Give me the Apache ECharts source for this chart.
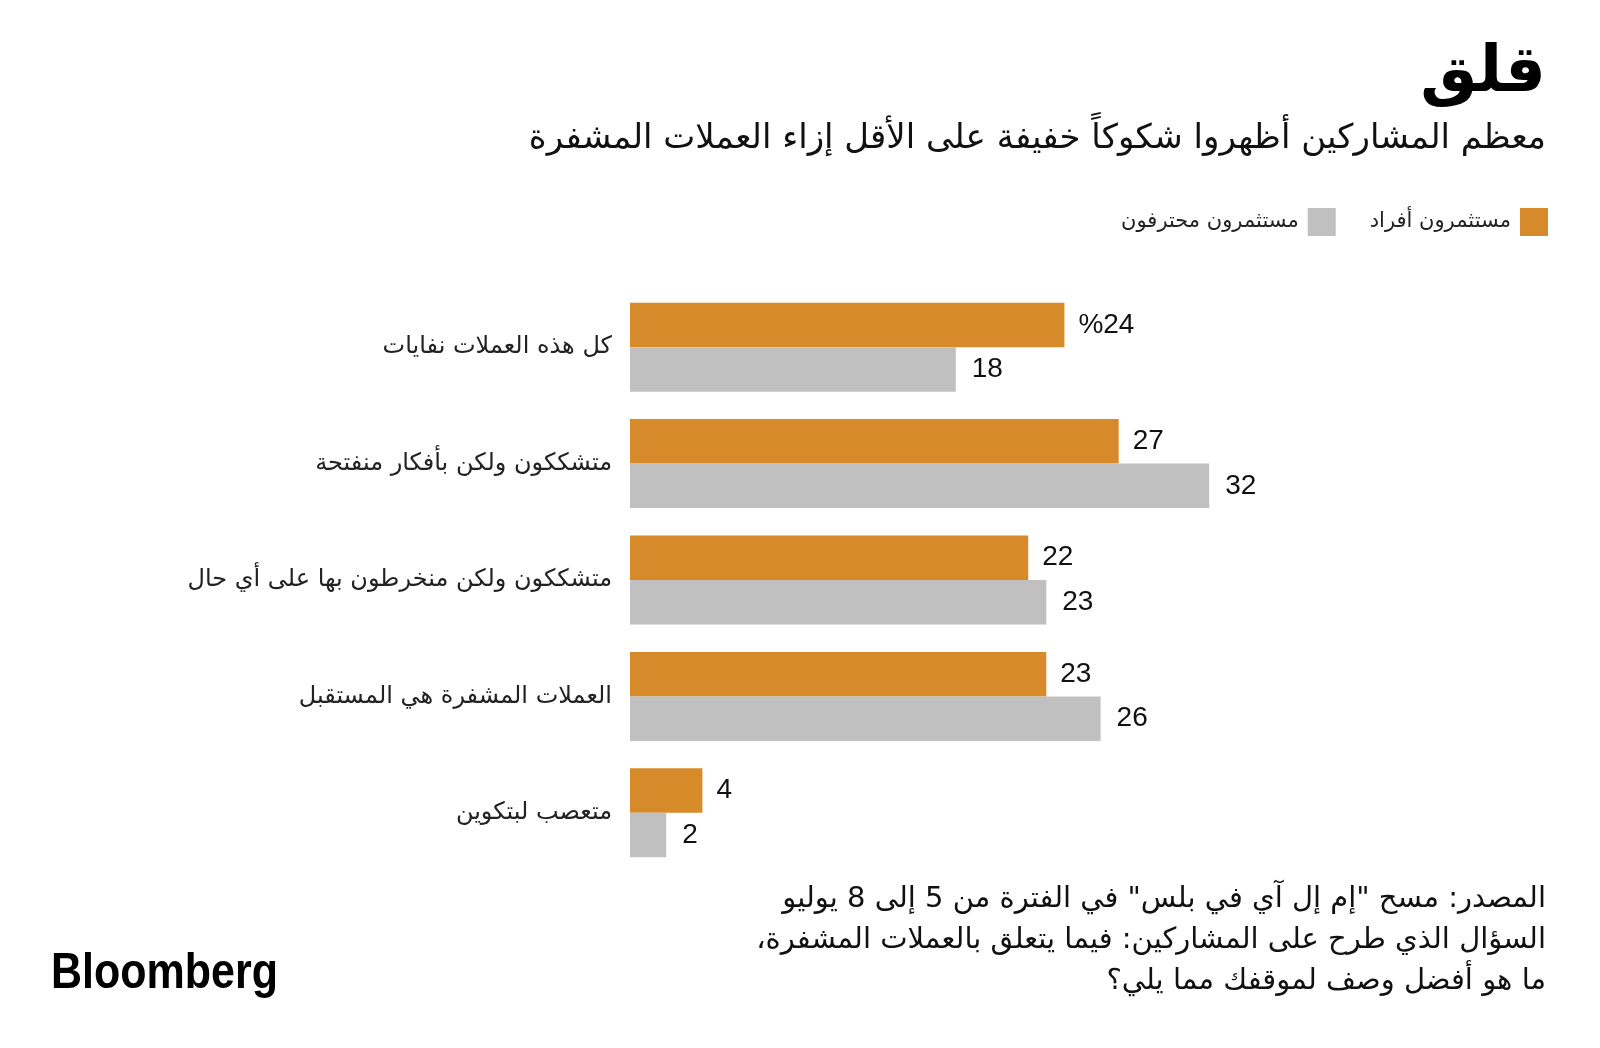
<!DOCTYPE html>
<html>
<head>
<meta charset="utf-8">
<script src="https://cdn.jsdelivr.net/npm/echarts@6/dist/echarts.min.js"></script>
<style>
html,body{margin:0;padding:0;background:#fff;}
#c{width:1600px;height:1048px;direction:rtl;}
</style>
</head>
<body>
<div id="c" dir="rtl"></div>
<script>
const categories = [
  'كل هذه العملات نفايات',
  'متشككون ولكن بأفكار منفتحة',
  'متشككون ولكن منخرطون بها على أي حال',
  'العملات المشفرة هي المستقبل',
  'متعصب لبتكوين'
];
const seriesNames = ['مستثمرون أفراد', 'مستثمرون محترفون'];
const individualValues = [24, 27, 22, 23, 4];
const professionalValues = [18, 32, 23, 26, 2];

const titleText = 'قلق';
const subtitleText = 'معظم المشاركين أظهروا شكوكاً خفيفة على الأقل إزاء العملات المشفرة';
const footerLines = [
  'المصدر: مسح "إم إل آي في بلس" في الفترة من 5 إلى 8 يوليو',
  'السؤال الذي طرح على المشاركين: فيما يتعلق بالعملات المشفرة،',
  'ما هو أفضل وصف لموقفك مما يلي؟'
];

const AR = "'DejaVu Sans', sans-serif";
const NUM = "'Liberation Sans', Arial, sans-serif";
const ORANGE = '#D68A29';
const GRAY = '#C0C0C0';

const chart = echarts.init(document.getElementById('c'), null, {renderer: 'canvas'});
chart.setOption({
  animation: false,
  backgroundColor: '#ffffff',
  graphic: [
    {type: 'text', right: 54, top: 42, style: {text: titleText, font: 'bold 64px ' + AR, fill: '#000', textAlign: 'right'}},
    {type: 'text', right: 54, top: 122, style: {text: subtitleText, font: '34px ' + AR, fill: '#111', textAlign: 'right'}},
    {type: 'text', right: 54, top: 879, style: {text: footerLines.join('\n'), font: '29px ' + AR, fill: '#111', textAlign: 'right', lineHeight: 41}},
    {type: 'text', x: 51, y: 949, scaleX: 0.86, originX: 0, originY: 0,
      style: {text: 'Bloomberg', font: 'bold 50px ' + NUM, fill: '#000', textAlign: 'left', textVerticalAlign: 'top'}}
  ],
  legend: {
    right: 47,
    top: 203,
    align: 'right',
    itemWidth: 28,
    itemHeight: 28,
    itemGap: 34,
    icon: 'rect',
    data: [seriesNames[1], seriesNames[0]],
    textStyle: {fontFamily: AR, fontSize: 21, color: '#222', padding: [0, 4, 0, 0]}
  },
  grid: {left: 630, right: 246, top: 289, bottom: 177, containLabel: false},
  xAxis: {
    type: 'value', min: 0, max: 40,
    axisLine: {show: false}, axisTick: {show: false}, axisLabel: {show: false}, splitLine: {show: false}
  },
  yAxis: {
    type: 'category', inverse: true, data: categories,
    axisLine: {show: false}, axisTick: {show: false},
    axisLabel: {margin: 18, fontFamily: AR, fontSize: 24, color: '#222'}
  },
  series: [
    {
      name: seriesNames[0], type: 'bar', data: individualValues,
      barWidth: 44.5, barGap: '0%',
      itemStyle: {color: ORANGE},
      label: {show: true, position: 'right', distance: 14, fontFamily: NUM, fontSize: 28, color: '#111',
        formatter: p => p.dataIndex === 0 ? '%' + p.value : String(p.value)}
    },
    {
      name: seriesNames[1], type: 'bar', data: professionalValues,
      barWidth: 44.5, barGap: '0%',
      itemStyle: {color: GRAY},
      label: {show: true, position: 'right', distance: 16, fontFamily: NUM, fontSize: 28, color: '#111'}
    }
  ]
});
</script>
</body>
</html>
